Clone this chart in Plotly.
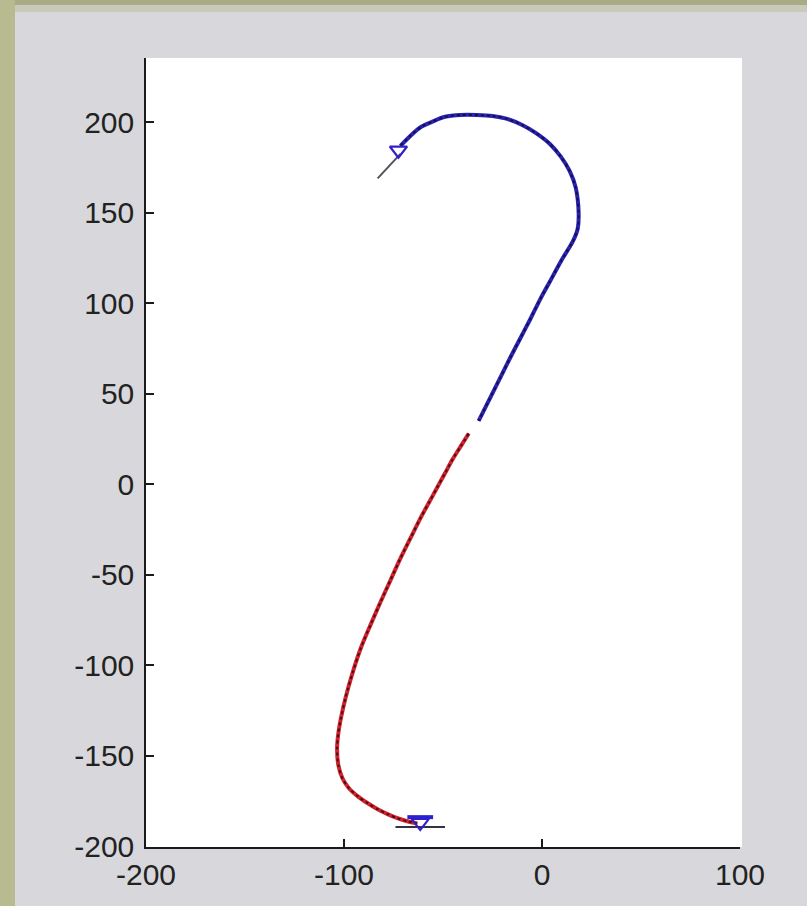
import plotly.graph_objects as go

# Blue (first) part of the trajectory
blue_x = [-71.5, -66, -61, -55, -49, -41, -33, -25, -18, -10, -3, 4, 9.5, 14, 17, 18.5, 18, 15.5, 10, 4, -1, -6, -11, -16, -21, -26.5, -32]
blue_y = [187, 193, 197.5, 200.5, 203, 204, 204, 203.5, 202, 198.5, 194, 188, 181, 173, 164, 150, 141, 134, 124, 112, 102, 91, 80.5, 70, 59, 47, 35]

# Red (second) part of the trajectory
red_x = [-37, -41, -45, -49, -53, -57, -61.5, -66.5, -71.5, -76.5, -81.5, -86.5, -91.3, -95.6, -99.2, -101.5,
         -102.9, -103.5, -102.9, -100.8, -97.5, -93, -88, -83, -78, -73, -68, -63]
red_y = [28, 21, 14, 6, -2, -10, -19, -30, -41, -53, -65, -77.5, -90, -104, -118, -129,
         -138, -146, -155, -162.5, -168, -172.5, -176.3, -179.6, -182.3, -184.6, -186.3, -187.5]

# Start / end markers and heading segments
marker_x = [-72.5, -61.5]
marker_y = [184.5, -187]
start_head_x = [-71.5, -83]
start_head_y = [182.5, 169]
end_head_x = [-74, -49]
end_head_y = [-189.5, -189.5]
end_bar_x = [-68, -55]
end_bar_y = [-184, -184]

x_ticks = [-200, -100, 0, 100]
y_ticks = [-200, -150, -100, -50, 0, 50, 100, 150, 200]

fig = go.Figure()
fig.add_trace(go.Scatter(x=blue_x, y=blue_y, mode="lines",
                         line=dict(color="#2a22b8", width=4, shape="spline", smoothing=0.8), showlegend=False))
fig.add_trace(go.Scatter(x=blue_x, y=blue_y, mode="lines",
                         line=dict(color="#14123a", width=2, dash="dot", shape="spline", smoothing=0.8), showlegend=False))
fig.add_trace(go.Scatter(x=red_x, y=red_y, mode="lines",
                         line=dict(color="#d8202c", width=4, shape="spline", smoothing=0.8), showlegend=False))
fig.add_trace(go.Scatter(x=red_x, y=red_y, mode="lines",
                         line=dict(color="#3a1418", width=2, dash="dot", shape="spline", smoothing=0.8), showlegend=False))
fig.add_trace(go.Scatter(x=start_head_x, y=start_head_y, mode="lines",
                         line=dict(color="#555060", width=2), showlegend=False))
fig.add_trace(go.Scatter(x=end_head_x, y=end_head_y, mode="lines",
                         line=dict(color="#333344", width=2), showlegend=False))
fig.add_trace(go.Scatter(x=end_bar_x, y=end_bar_y, mode="lines",
                         line=dict(color="#2a22d0", width=4), showlegend=False))
fig.add_trace(go.Scatter(x=marker_x, y=marker_y, mode="markers",
                         marker=dict(symbol="triangle-down-open", size=15, color="#3020c8",
                                     line=dict(color="#3020c8", width=2.2)),
                         showlegend=False))

L, R, T, B = 146, 67, 58, 59
W, H = 807, 906
pw, ph = W - L - R, H - T - B

def px_x(p):
    return (p - L) / pw

def px_y(p):
    return (H - B - p) / ph

shapes = [
    dict(type="rect", xref="paper", yref="paper", x0=px_x(0), x1=px_x(W), y0=px_y(5), y1=px_y(0),
         fillcolor="#a9aa88", line=dict(width=0), layer="below"),
    dict(type="rect", xref="paper", yref="paper", x0=px_x(0), x1=px_x(W), y0=px_y(12), y1=px_y(5),
         fillcolor="#cacabb", line=dict(width=0), layer="below"),
    dict(type="rect", xref="paper", yref="paper", x0=px_x(0), x1=px_x(15), y0=px_y(H), y1=px_y(0),
         fillcolor="#b8bb90", line=dict(width=0), layer="below"),
    dict(type="rect", xref="paper", yref="paper", x0=1.0, x1=px_x(742), y0=0, y1=1,
         fillcolor="white", line=dict(width=0), layer="below"),
]

axis_common = dict(showgrid=False, zeroline=False, showline=True, linecolor="#1a1a1a", linewidth=1.5,
                   ticks="inside", ticklen=8, tickwidth=1.5, tickcolor="#1a1a1a", mirror=False,
                   tickfont=dict(family="Liberation Sans, Arial, sans-serif", size=30, color="#222222"))

fig.update_layout(
    width=W, height=H,
    margin=dict(l=L, r=R, t=T, b=B, pad=0),
    paper_bgcolor="#d8d8dc",
    plot_bgcolor="white",
    shapes=shapes,
    xaxis=dict(range=[-200, 100], tickvals=x_ticks, ticktext=[str(v) for v in x_ticks], **axis_common),
    yaxis=dict(range=[-200.5, 235.5], tickvals=y_ticks, ticktext=[str(v) for v in y_ticks],
               ticklabelstandoff=4, **axis_common),
)

fig.write_html("out.html", config={"displayModeBar": False},
               post_script="document.body.style.margin='0px';")
